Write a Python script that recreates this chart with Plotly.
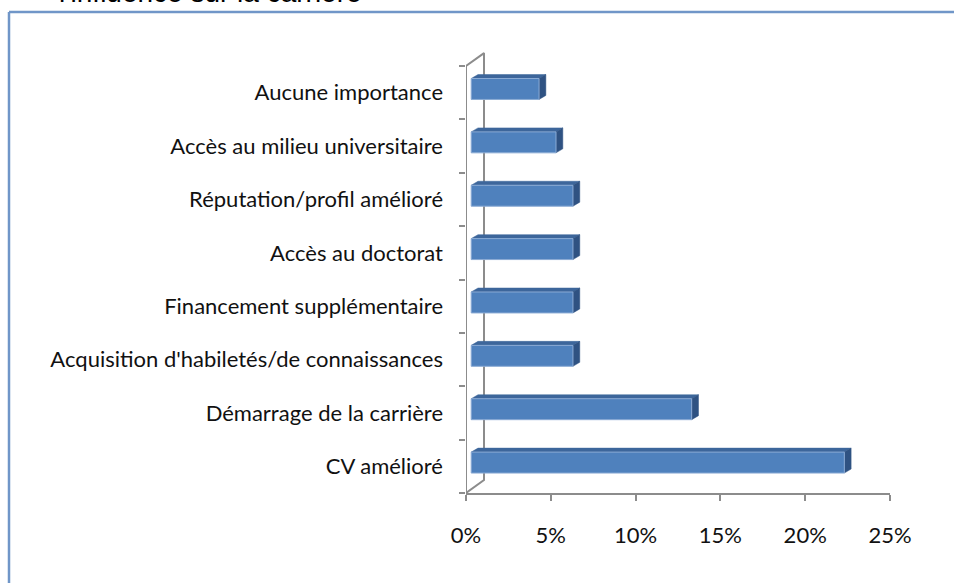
import plotly.graph_objects as go

# ---------------- data (bottom to top) ----------------
categories = [
    "CV amélioré",
    "Démarrage de la carrière",
    "Acquisition d'habiletés/de connaissances",
    "Financement supplémentaire",
    "Accès au doctorat",
    "Réputation/profil amélioré",
    "Accès au milieu universitaire",
    "Aucune importance",
]
values = [22, 13, 6, 6, 6, 6, 5, 4]  # percent
x_ticks = [0, 5, 10, 15, 20, 25]
x_tick_labels = ["0%", "5%", "10%", "15%", "20%", "25%"]
title_text = "l'influence sur la carrière"

# ---------------- layout geometry (pixels) ----------------
W, H = 954, 583
ML, MR = 466, 64
MT, MB = 52, 90
plot_w = W - ML - MR
plot_h = H - MT - MB
x_max = 25
n = len(categories)
px_x = plot_w / x_max              # px per percent
px_y = 53.5                         # px per category
depth_units = 13 / px_y             # extra y range for the back wall
y_lo, y_hi = -0.5, n - 0.5
y_top = y_hi + depth_units + 0.02

def dx(p):
    return p / px_x

def dy(p):
    return p / px_y

# wall offsets
wall_dx, wall_dy = dx(18), dy(13)
# bar depth offsets (front face, back face)
f_dx, f_dy = dx(5.2), dy(3.75)
b_dx, b_dy = dx(12.0), dy(7.75)
half_h = dy(10.5)

front_x, front_y, top_x, top_y, side_x, side_y = [], [], [], [], [], []
for i, v in enumerate(values):
    y0 = i - half_h
    y1 = i + half_h
    front_x += [f_dx, v + f_dx, v + f_dx, f_dx, f_dx, None]
    front_y += [y0 + f_dy, y0 + f_dy, y1 + f_dy, y1 + f_dy, y0 + f_dy, None]
    top_x += [f_dx, v + f_dx, v + b_dx, b_dx, f_dx, None]
    top_y += [y1 + f_dy, y1 + f_dy, y1 + b_dy, y1 + b_dy, y1 + f_dy, None]
    side_x += [v + f_dx, v + b_dx, v + b_dx, v + f_dx, v + f_dx, None]
    side_y += [y0 + f_dy, y0 + b_dy, y1 + b_dy, y1 + f_dy, y0 + f_dy, None]

axis_col = "#8c8c8c"
fig = go.Figure()

# walls / front vertical axis
fig.add_trace(go.Scatter(
    x=[0, 0, None, 0, wall_dx, wall_dx, 0, None],
    y=[y_lo, y_hi, None, y_lo, y_lo + wall_dy, y_hi + wall_dy, y_hi, None],
    mode="lines", line=dict(color=axis_col, width=2),
    hoverinfo="skip", showlegend=False))

fig.add_trace(go.Scatter(x=top_x, y=top_y, mode="lines", fill="toself",
                         fillcolor="#3d669b", line=dict(color="#3d669b", width=0.5),
                         hoverinfo="skip", showlegend=False))
fig.add_trace(go.Scatter(x=side_x, y=side_y, mode="lines", fill="toself",
                         fillcolor="#2f5282", line=dict(color="#2f5282", width=0.5),
                         hoverinfo="skip", showlegend=False))
fig.add_trace(go.Scatter(x=front_x, y=front_y, mode="lines", fill="toself",
                         fillcolor="#4f81bd", line=dict(color="#8aaad4", width=1),
                         hoverinfo="skip", showlegend=False))

def px2paper_x(p):
    return (p - ML) / plot_w

def px2paper_y(p):
    return (H - MB - p) / plot_h

frame_line = dict(color="#7096c8", width=2.5)
# top and left edges of the outer frame (right/bottom lie outside the picture)
fig.add_shape(type="line", xref="paper", yref="paper",
              x0=px2paper_x(9), x1=px2paper_x(990),
              y0=px2paper_y(12), y1=px2paper_y(12), line=frame_line)
fig.add_shape(type="line", xref="paper", yref="paper",
              x0=px2paper_x(9), x1=px2paper_x(9),
              y0=px2paper_y(12), y1=px2paper_y(620), line=frame_line)

fig.add_annotation(text=title_text, xref="paper", yref="paper",
                   x=px2paper_x(57), y=px2paper_y(10),
                   xanchor="left", yanchor="bottom", showarrow=False,
                   font=dict(family="Liberation Sans, Arial", size=28, color="#000"))

fig.update_layout(
    width=W, height=H,
    margin=dict(l=ML, r=MR, t=MT, b=MB, pad=0),
    paper_bgcolor="white", plot_bgcolor="white",
    font=dict(family="Lato, Noto Sans", size=22, color="#111"),
    xaxis=dict(range=[0, x_max], tickmode="array", tickvals=x_ticks,
               ticktext=x_tick_labels, showgrid=False, zeroline=False,
               showline=True, linecolor=axis_col, linewidth=2,
               ticks="outside", ticklen=6, tickwidth=2, tickcolor=axis_col,
               ticklabelstandoff=16, fixedrange=True),
    yaxis=dict(range=[y_lo, y_top], tickmode="array",
               tickvals=list(range(n)), ticktext=categories,
               showgrid=False, zeroline=False, showline=False,
               ticks="", ticklabelstandoff=22,
               minor=dict(tickmode="array",
                          tickvals=[i - 0.5 for i in range(n + 1)],
                          ticks="outside", ticklen=6, tickwidth=2,
                          tickcolor=axis_col, showgrid=False),
               fixedrange=True),
)

fig.write_html("out.html", config={"displayModeBar": False},
               post_script="document.body.style.margin='0';document.body.style.overflow='hidden';")
